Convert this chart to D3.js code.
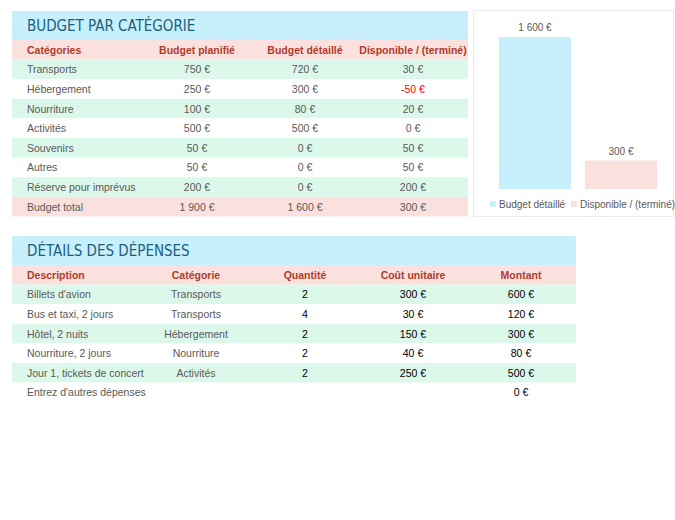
<!DOCTYPE html>
<html><head><meta charset="utf-8">
<script src="https://cdn.jsdelivr.net/npm/d3@7/dist/d3.min.js"></script>
<style>body{margin:0;background:#fff}text{font-family:"Liberation Sans",Arial,sans-serif}</style>
</head><body><svg id="vis" width="675" height="520"></svg>
<script>
// budget table
var budgetHeaders = ["Catégories", "Budget planifié", "Budget détaillé", "Disponible / (terminé)"];
var budgetCats = ["Transports", "Hébergement", "Nourriture", "Activités", "Souvenirs", "Autres", "Réserve pour imprévus", "Budget total"];
var budgetPlanned = [750, 250, 100, 500, 50, 50, 200, 1900];
var budgetDetailed = [720, 300, 80, 500, 0, 0, 0, 1600];
var budgetLeft = [30, -50, 20, 0, 50, 50, 200, 300];

// expenses table
var expHeaders = ["Description", "Catégorie", "Quantité", "Coût unitaire", "Montant"];
var expDesc = ["Billets d'avion", "Bus et taxi, 2 jours", "Hôtel, 2 nuits", "Nourriture, 2 jours", "Jour 1, tickets de concert", "Entrez d'autres dépenses"];
var expCat = ["Transports", "Transports", "Hébergement", "Nourriture", "Activités", ""];
var expQty = [2, 4, 2, 2, 2, null];
var expUnit = [300, 30, 150, 40, 250, null];
var expTotal = [600, 120, 300, 80, 500, 0];

// chart
var chartLabels = ["Budget détaillé", "Disponible / (terminé)"];
var chartValues = [1600, 300];
var chartColors = ["#c7effc", "#fbe1dd"];

var svg = d3.select("#vis");
var eur = function(v) { return v.toLocaleString("fr-FR").replace(/\s/g, " ") + " €"; };

function drawTable(opts) {
  var g = svg.append("g");
  g.append("rect").attr("x", opts.x0).attr("y", opts.y0).attr("width", opts.x1 - opts.x0).attr("height", 29).attr("fill", "#c7effc");
  g.append("text").attr("x", opts.x0 + 15).attr("y", opts.y0 + 20).text(opts.title)
    .attr("fill", "#1b5f7e").attr("font-size", 15).style("font-family", "'DejaVu Sans Condensed','Open Sans',sans-serif");

  var y = d3.scaleBand().domain(d3.range(opts.rows.length + 1)).range([opts.y0 + 29, opts.y0 + 29 + 19.6 * (opts.rows.length + 1)]);
  var fills = [ "#fbe1dd" ].concat(opts.rows.map(function(r, i) { return opts.fill(i); }));
  g.selectAll(".bg").data(fills).enter().append("rect")
    .attr("x", opts.x0).attr("width", opts.x1 - opts.x0)
    .attr("y", function(d, i) { return y(i); }).attr("height", y.bandwidth())
    .attr("fill", function(d) { return d; });

  var all = [opts.headers].concat(opts.rows);
  all.forEach(function(row, ri) {
    row.forEach(function(cell, ci) {
      if (cell === null || cell === "") return;
      var t = g.append("text").attr("y", y(ri) + y.bandwidth() / 2 + 4).attr("font-size", 10.5).text(cell);
      if (ci === 0) t.attr("x", opts.x0 + 15);
      else t.attr("x", opts.cols[ci]).attr("text-anchor", "middle");
      if (ri === 0) t.attr("fill", "#b13a2c").attr("font-weight", "bold");
      else t.attr("fill", opts.color(ri - 1, ci));
    });
  });
}

drawTable({
  x0: 12, x1: 468, y0: 11, title: "BUDGET PAR CATÉGORIE",
  headers: budgetHeaders, cols: [0, 197, 305, 413],
  rows: budgetCats.map(function(c, i) { return [c, eur(budgetPlanned[i]), eur(budgetDetailed[i]), eur(budgetLeft[i])]; }),
  fill: function(i) { return i === budgetCats.length - 1 ? "#fbe1dd" : (i % 2 === 0 ? "#dcf8ea" : "#fff"); },
  color: function(i, c) { return c === 3 && budgetLeft[i] < 0 ? "#ff0000" : "#595959"; }
});

drawTable({
  x0: 12, x1: 576, y0: 236, title: "DÉTAILS DES DÉPENSES",
  headers: expHeaders, cols: [0, 196, 305, 413, 521],
  rows: expDesc.map(function(d, i) {
    return [d, expCat[i], expQty[i] === null ? null : String(expQty[i]), expUnit[i] === null ? null : eur(expUnit[i]), eur(expTotal[i])];
  }),
  fill: function(i) { return i % 2 === 0 && i < 5 ? "#dcf8ea" : "#fff"; },
  color: function(i, c) { return c >= 2 ? "#000" : "#595959"; }
});

// bar chart
var cg = svg.append("g");
cg.append("rect").attr("x", 473.5).attr("y", 10.5).attr("width", 200).attr("height", 206).attr("fill", "#fff").attr("stroke", "#eaeaea");
var x = d3.scaleBand().domain(chartLabels).range([499, 657]).paddingInner(0.163).paddingOuter(0);
var yb = d3.scaleLinear().domain([0, 1600]).range([189, 37]);
cg.selectAll(".bar").data(chartValues).enter().append("rect")
  .attr("x", function(d, i) { return x(chartLabels[i]); }).attr("width", x.bandwidth())
  .attr("y", function(d) { return yb(d); }).attr("height", function(d) { return 189 - yb(d); })
  .attr("fill", function(d, i) { return chartColors[i]; });
cg.selectAll(".lbl").data(chartValues).enter().append("text")
  .attr("x", function(d, i) { return x(chartLabels[i]) + x.bandwidth() / 2; })
  .attr("y", function(d) { return yb(d) - 6; }).attr("text-anchor", "middle")
  .attr("font-size", 10).attr("fill", "#595959").text(eur);
var lx = [490, 571];
chartLabels.forEach(function(l, i) {
  cg.append("rect").attr("x", lx[i]).attr("y", 201).attr("width", 6).attr("height", 6).attr("fill", chartColors[i]);
  cg.append("text").attr("x", lx[i] + 9).attr("y", 208).attr("font-size", 10).attr("fill", "#595959").text(l);
});
</script></body></html>
